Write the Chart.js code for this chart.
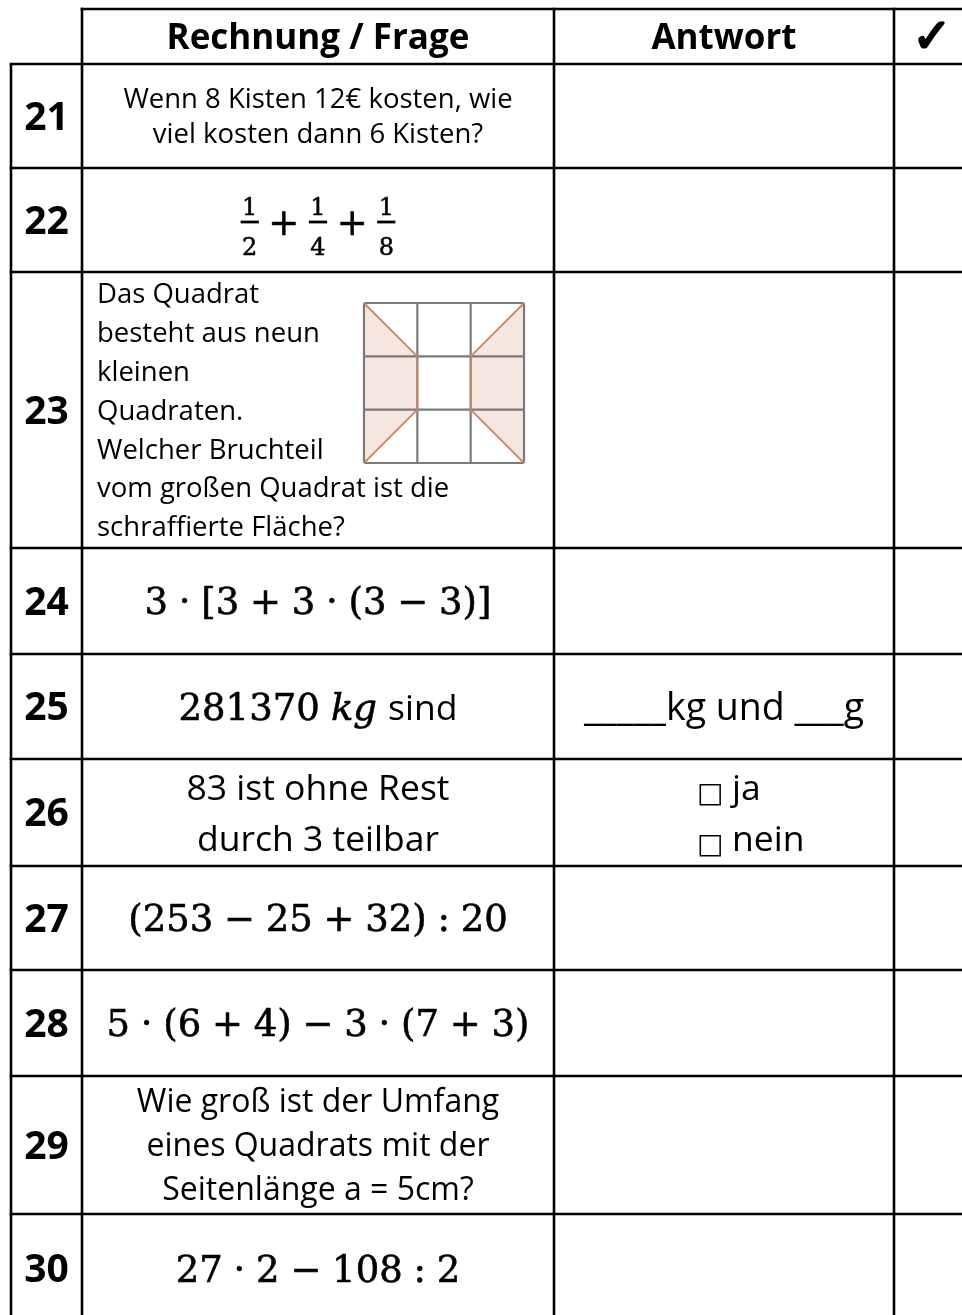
<!DOCTYPE html>
<html><head><meta charset="utf-8">
<script src="https://cdn.jsdelivr.net/npm/chart.js@4.4.1/dist/chart.umd.min.js"></script>
<style>html,body{margin:0;padding:0;background:#fff}#wrap{width:962px;height:1315px;position:relative}</style>
</head><body><div id="wrap"><canvas id="c"></canvas></div>
<script>
// ---------- data ----------
const rowNumbers = ['21','22','23','24','25','26','27','28','29','30'];
const headerLabels = ['Rechnung / Frage', 'Antwort', '✓'];
const questionKinds = ['text','fractions','figure','math','mixed','text','math','math','text','math'];
const questionTexts = [
  ['Wenn 8 Kisten 12€ kosten, wie', 'viel kosten dann 6 Kisten?'],
  ['1/2', '1/4', '1/8'],
  ['Das Quadrat','besteht aus neun','kleinen','Quadraten.','Welcher Bruchteil','vom großen Quadrat ist die','schraffierte Fläche?'],
  ['3 · [3 + 3 · (3 − 3)]'],
  ['281370', 'kg', 'sind'],
  ['83 ist ohne Rest','durch 3 teilbar'],
  ['(253 − 25 + 32) : 20'],
  ['5 · (6 + 4) − 3 · (7 + 3)'],
  ['Wie groß ist der Umfang','eines Quadrats mit der','Seitenlänge a = 5cm?'],
  ['27 · 2 − 108 : 2']
];
const answerKinds = ['','','','','text','checkbox','','','',''];
const answerTexts = [[],[],[],[],['_____kg und ___g'],['ja','nein'],[],[],[],[]];
const figureCells = 3;
const figureShaded = [[[0,0],[1,1],[1,2],[0,3]], [[3,0],[2,1],[2,2],[3,3]]];

// ---------- layout / style ----------
const colEdges = [11, 82, 554, 894, 972];
const headerTop = 9;
const rowEdges = [64,168,272,548,654,759,866,970,1076,1214,1323];
const qFontSize = [27.5, 23, 27.5, 37, 37, 35.5, 37, 37, 32, 37];
const qLineHeight = [35, 0, 38.8, 0, 0, 51, 0, 0, 44, 0];
const SANS = "'Open Sans', 'DejaVu Sans', sans-serif";
const SERIF = "'DejaVu Serif', serif";
const figureBox = {x0: 364, y0: 303, size: 160};
const LINE_W = 2.6;

const worksheet = {
  id: 'worksheet',
  beforeDraw(chart) {
    const c = chart.ctx;
    c.save(); c.fillStyle = '#fff'; c.fillRect(0,0,chart.width,chart.height); c.restore();
  },
  afterDraw(chart) {
    const c = chart.ctx;
    const xs = chart.scales.x, ys = chart.scales.y;
    const X = v => xs.getPixelForValue(v);
    const Y = v => ys.getPixelForValue(v);
    const last = rowEdges[rowEdges.length-1];
    c.save();
    c.fillStyle = '#000';

    function lines(arr, size, lh, cx, cy, align, weight) {
      c.font = (weight||'') + ' ' + size + 'px ' + SANS;
      c.textAlign = align; c.textBaseline = 'alphabetic';
      const cap = 0.714*size;
      const first = cy - (arr.length-1)*lh/2 + cap/2;
      arr.forEach((t,i) => c.fillText(t, cx, first + i*lh));
    }
    function math(expr, size, cx, cy) {
      const ops = new Set(['+','−','·',':','=']);
      const toks = expr.split(' ');
      c.font = size + 'px ' + SERIF;
      c.textAlign = 'left'; c.textBaseline = 'alphabetic';
      const pad = 0.29*size;
      const w = toks.map(t => c.measureText(t).width + (ops.has(t) ? 2*pad : 0));
      const total = w.reduce((a,b)=>a+b,0);
      let x = cx - total/2;
      const base = cy + 0.729*size/2;
      c.strokeStyle = '#000'; c.lineWidth = 0.6;
      toks.forEach((t,i) => {
        const tx = x + (ops.has(t)?pad:0);
        c.fillText(t, tx, base); c.strokeText(t, tx, base);
        x += w[i];
      });
    }

    // header
    const hcy = Y((headerTop+rowEdges[0])/2);
    lines([headerLabels[0]], 35, 0, X((colEdges[1]+colEdges[2])/2), hcy, 'center', 'bold');
    lines([headerLabels[1]], 35, 0, X((colEdges[2]+colEdges[3])/2), hcy, 'center', 'bold');
    c.font = 'bold 47px ' + "'DejaVu Sans', sans-serif";
    c.textAlign = 'center'; c.textBaseline = 'alphabetic';
    c.strokeStyle = '#000'; c.lineWidth = 2.2; c.lineJoin = 'round';
    c.fillText(headerLabels[2], X((colEdges[3]+colEdges[4])/2 - 1), hcy + 15);
    c.strokeText(headerLabels[2], X((colEdges[3]+colEdges[4])/2 - 1), hcy + 15);

    rowNumbers.forEach((num, i) => {
      const cy = Y((rowEdges[i]+rowEdges[i+1])/2);
      lines([num], 39, 0, X((colEdges[0]+colEdges[1])/2), cy, 'center', 'bold');
      const qcx = X((colEdges[1]+colEdges[2])/2);
      const size = qFontSize[i];
      const kind = questionKinds[i];
      const q = questionTexts[i];
      if (kind === 'text') {
        lines(q, size, qLineHeight[i], qcx, cy, 'center');
      } else if (kind === 'math') {
        math(q[0], size, qcx, cy);
      } else if (kind === 'figure') {
        lines(q, size, qLineHeight[i], X(colEdges[1]+15), cy, 'left');
        const u = figureBox.size / figureCells;
        const FX = v => X(figureBox.x0 + v*u), FY = v => Y(figureBox.y0 + v*u);
        c.fillStyle = '#f5e6e0';
        figureShaded.forEach(poly => {
          c.beginPath(); poly.forEach((p,k) => k ? c.lineTo(FX(p[0]),FY(p[1])) : c.moveTo(FX(p[0]),FY(p[1]))); c.closePath(); c.fill();
        });
        c.strokeStyle = '#7a7a7a'; c.lineWidth = 2.2;
        for (let k=0;k<=figureCells;k++) {
          c.beginPath(); c.moveTo(FX(k),FY(0)); c.lineTo(FX(k),FY(figureCells)); c.stroke();
          c.beginPath(); c.moveTo(FX(0),FY(k)); c.lineTo(FX(figureCells),FY(k)); c.stroke();
        }
        c.strokeStyle = '#c98863'; c.lineWidth = 1.8;
        figureShaded.forEach(poly => {
          c.beginPath(); poly.forEach((p,k) => k ? c.lineTo(FX(p[0]),FY(p[1])) : c.moveTo(FX(p[0]),FY(p[1]))); c.stroke();
        });
        c.fillStyle = '#000';
      } else if (kind === 'fractions') {
        const fs = 24, ps = 37;
        c.font = fs + 'px ' + SERIF;
        const fw = c.measureText('0').width + 4;
        c.font = ps + 'px ' + SERIF;
        const pw = c.measureText('+').width;
        const pad = 9;
        const total = q.length*fw + (q.length-1)*(pw+2*pad);
        let x = qcx - total/2;
        const barY = cy + 2;
        c.strokeStyle = '#000';
        q.forEach((f, k) => {
          const [n, d] = f.split('/');
          const fc = x + fw/2;
          c.font = fs + 'px ' + SERIF; c.textAlign = 'center'; c.textBaseline='alphabetic';
          c.lineWidth = 0.5;
          c.fillText(n, fc, barY - 7); c.strokeText(n, fc, barY - 7);
          c.fillText(d, fc, barY + 33); c.strokeText(d, fc, barY + 33);
          c.fillRect(x + 0.5, barY - 1.4, fw - 1, 2.8);
          x += fw;
          if (k < q.length-1) {
            c.font = ps + 'px ' + SERIF; c.textAlign = 'center';
            c.lineWidth = 0.6;
            c.fillText('+', x + pad + pw/2, barY + 0.36*ps);
            c.strokeText('+', x + pad + pw/2, barY + 0.36*ps);
            x += pw + 2*pad;
          }
        });
      } else if (kind === 'mixed') {
        const parts = [
          {t: q[0], f: size + 'px ' + SERIF, m: true},
          {t: q[1], f: 'italic ' + size + 'px ' + SERIF, m: true},
          {t: q[2], f: '35.5px ' + SANS, m: false}
        ];
        const gap = 0.3*size;
        c.textAlign = 'left'; c.textBaseline = 'alphabetic';
        c.strokeStyle = '#000'; c.lineWidth = 0.6;
        const ws = parts.map(p => { c.font = p.f; return c.measureText(p.t).width; });
        const total = ws.reduce((a,b)=>a+b,0) + gap*(parts.length-1);
        let x = qcx - total/2;
        const base = cy + 0.729*size/2;
        parts.forEach((p,k) => { c.font = p.f; c.fillText(p.t, x, base); if (p.m) c.strokeText(p.t, x, base); x += ws[k] + gap; });
      }
      // answers
      const acx = X((colEdges[2]+colEdges[3])/2);
      const ak = answerKinds[i];
      if (ak === 'text') {
        lines(answerTexts[i], 37.5, 0, acx, cy, 'center');
      } else if (ak === 'checkbox') {
        const lh = 51, n = answerTexts[i].length;
        const left = X(colEdges[2] + 145);
        answerTexts[i].forEach((t,k) => {
          const base = cy - (n-1)*lh/2 + 0.714*35.5/2 + k*lh;
          c.font = '28px ' + "'DejaVu Sans', sans-serif"; c.textAlign='left';
          c.fillText('□', left - 2, base + 2);
          c.font = '35.5px ' + SANS;
          c.fillText(t, left + 33, base);
        });
      }
    });

    // grid lines
    c.strokeStyle = '#000'; c.lineWidth = LINE_W; c.lineCap = 'butt';
    const hl = (y, x0, x1) => { c.beginPath(); c.moveTo(X(x0), Y(y)); c.lineTo(X(x1), Y(y)); c.stroke(); };
    const vl = (x, y0, y1) => { c.beginPath(); c.moveTo(X(x), Y(y0)); c.lineTo(X(x), Y(y1)); c.stroke(); };
    hl(headerTop, colEdges[1]-LINE_W/2, colEdges[4]);
    rowEdges.forEach(y => hl(y, colEdges[0]-LINE_W/2, colEdges[4]));
    vl(colEdges[0], rowEdges[0], last);
    for (let k=1;k<colEdges.length;k++) vl(colEdges[k], headerTop - LINE_W/2, last);
    c.restore();
  }
};

new Chart(document.getElementById('c'), {
  type: 'scatter',
  data: { datasets: [{ data: rowNumbers.map((n,i)=>({x:(colEdges[0]+colEdges[1])/2, y:(rowEdges[i]+rowEdges[i+1])/2})), pointRadius:0, showLine:false }] },
  options: {
    responsive: true, maintainAspectRatio: false, animation: false,
    layout: { padding: 0 },
    events: [],
    plugins: { legend: { display: false }, tooltip: { enabled: false } },
    scales: {
      x: { type: 'linear', min: 0, max: 962, display: false },
      y: { type: 'linear', min: 0, max: 1315, reverse: true, display: false }
    }
  },
  plugins: [worksheet]
});
</script>
</body></html>
